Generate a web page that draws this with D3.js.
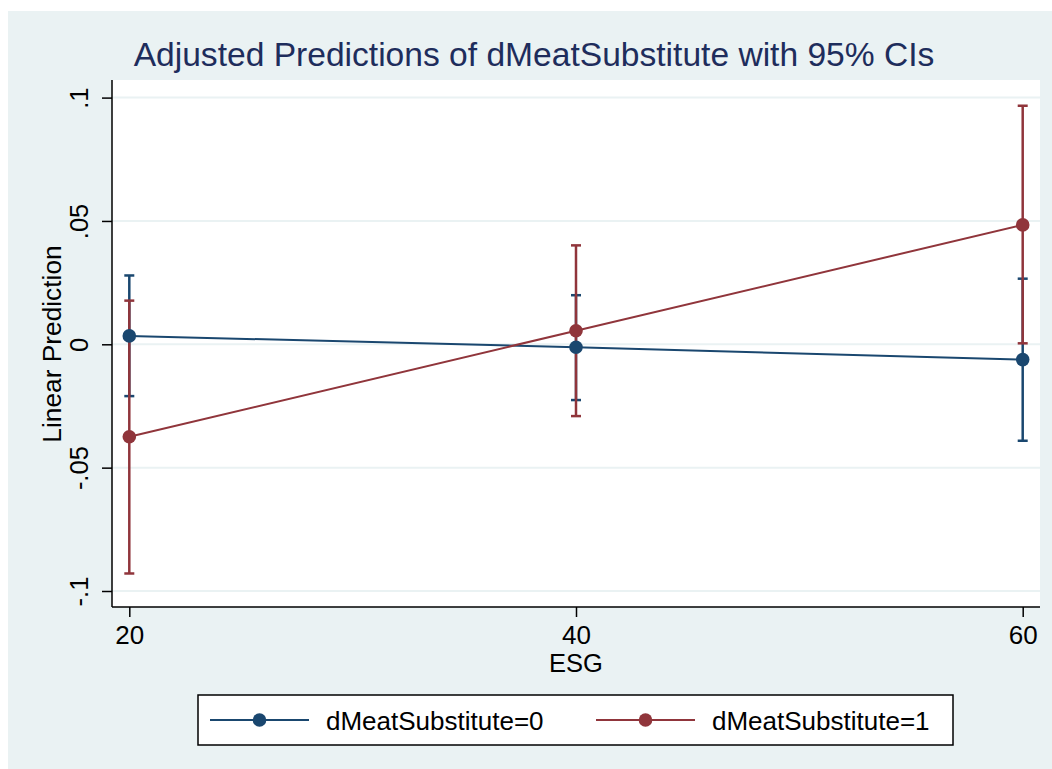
<!DOCTYPE html>
<html>
<head>
<meta charset="utf-8">
<script src="https://cdn.jsdelivr.net/npm/d3@7"></script>
<style>
  html, body { margin: 0; padding: 0; background: #ffffff; }
  svg { display: block; font-family: "Liberation Sans", Arial, Helvetica, sans-serif; }
</style>
</head>
<body>
<svg id="chart" width="1052" height="769"></svg>
<script>
// ---- data ----
const esgLevels = [20, 40, 60];
const seriesNames = ["dMeatSubstitute=0", "dMeatSubstitute=1"];
const pred0 = [0.0034, -0.0012, -0.0062];
const lo0   = [-0.0210, -0.0226, -0.0391];
const hi0   = [0.0279, 0.0199, 0.0266];
const pred1 = [-0.0375, 0.0055, 0.0484];
const lo1   = [-0.0929, -0.0291, 0.0004];
const hi1   = [0.0177, 0.0401, 0.0967];
const yTicks = [-0.1, -0.05, 0, 0.05, 0.1];
const yTickLabels = ["-.1", "-.05", "0", ".05", ".1"];
const xTicks = [20, 40, 60];
const titleText = "Adjusted Predictions of dMeatSubstitute with 95% CIs";
const xTitle = "ESG";
const yTitle = "Linear Prediction";

const colors = ["#1a476f", "#90353b"];
const bgColor = "#eaf2f3";

const series = [
  { name: seriesNames[0], pred: pred0, lo: lo0, hi: hi0, color: colors[0] },
  { name: seriesNames[1], pred: pred1, lo: lo1, hi: hi1, color: colors[1] }
];

const svg = d3.select("#chart");

// background
svg.append("rect").attr("x", 8).attr("y", 11).attr("width", 1044).attr("height", 758).attr("fill", bgColor);

// plot region
const plot = { left: 112, right: 1040, top: 80, bottom: 607 };
svg.append("rect").attr("x", plot.left).attr("y", plot.top)
  .attr("width", plot.right - plot.left).attr("height", plot.bottom - plot.top).attr("fill", "#ffffff");

const x = d3.scaleLinear().domain([20, 60]).range([129.3, 1022.7]);
const y = d3.scaleLinear().domain([-0.1, 0.1]).range([591, 97.6]);

// gridlines
svg.append("g").selectAll("line").data(yTicks).join("line")
  .attr("x1", plot.left).attr("x2", plot.right)
  .attr("y1", d => y(d)).attr("y2", d => y(d))
  .attr("stroke", bgColor).attr("stroke-width", 2);

// title
svg.append("text").attr("x", 534).attr("y", 66).attr("text-anchor", "middle")
  .attr("font-size", 33.6).attr("fill", "#1e2d5c").text(titleText);

// y axis
const yAxis = d3.axisLeft(y).tickValues(yTicks).tickSize(10).tickFormat((d, i) => yTickLabels[i]);
const gy = svg.append("g").attr("transform", `translate(${plot.left},0)`).call(yAxis);
gy.select(".domain").remove();
gy.selectAll(".tick line").attr("stroke", "#000").attr("stroke-width", 1.5);
gy.selectAll(".tick text").remove();
gy.selectAll(".tick").append("text")
  .attr("transform", "translate(-24,0) rotate(-90)")
  .attr("text-anchor", "middle").attr("dy", 0)
  .attr("fill", "#000").attr("font-size", 25.5)
  .attr("font-family", "Liberation Sans, Arial, sans-serif")
  .text((d, i) => yTickLabels[i]);
svg.append("line").attr("x1", plot.left).attr("x2", plot.left)
  .attr("y1", plot.top).attr("y2", plot.bottom).attr("stroke", "#000").attr("stroke-width", 1.5);

// x axis
const xAxis = d3.axisBottom(x).tickValues(xTicks).tickSize(10).tickFormat(d3.format("d"));
const gx = svg.append("g").attr("transform", `translate(0,${plot.bottom})`).call(xAxis);
gx.select(".domain").remove();
gx.selectAll(".tick line").attr("stroke", "#000").attr("stroke-width", 1.5);
gx.selectAll(".tick text").attr("fill", "#000").attr("font-size", 26)
  .attr("font-family", "Liberation Sans, Arial, sans-serif").attr("y", 0).attr("dy", 37);
svg.append("line").attr("x1", plot.left).attr("x2", plot.right)
  .attr("y1", plot.bottom).attr("y2", plot.bottom).attr("stroke", "#000").attr("stroke-width", 1.5);

// axis titles
svg.append("text").attr("x", 576).attr("y", 672).attr("text-anchor", "middle")
  .attr("font-size", 25.5).attr("fill", "#000").text(xTitle);
svg.append("text").attr("transform", "translate(61,344) rotate(-90)").attr("text-anchor", "middle")
  .attr("font-size", 26.3).attr("fill", "#000").text(yTitle);

// CIs
const capW = 5;
series.forEach(s => {
  const g = svg.append("g");
  esgLevels.forEach((lv, i) => {
    g.append("line").attr("x1", x(lv)).attr("x2", x(lv)).attr("y1", y(s.lo[i])).attr("y2", y(s.hi[i]))
      .attr("stroke", s.color).attr("stroke-width", 2.5);
    [s.lo[i], s.hi[i]].forEach(v => {
      g.append("line").attr("x1", x(lv) - capW).attr("x2", x(lv) + capW).attr("y1", y(v)).attr("y2", y(v))
        .attr("stroke", s.color).attr("stroke-width", 2.5);
    });
  });
});

// lines and markers
const line = d3.line().x((d, i) => x(esgLevels[i])).y(d => y(d));
series.forEach(s => {
  svg.append("path").datum(s.pred).attr("d", line).attr("fill", "none")
    .attr("stroke", s.color).attr("stroke-width", 2);
  svg.append("g").selectAll("circle").data(s.pred).join("circle")
    .attr("cx", (d, i) => x(esgLevels[i])).attr("cy", d => y(d)).attr("r", 6.8).attr("fill", s.color);
});

// legend
const lg = svg.append("g");
lg.append("rect").attr("x", 198).attr("y", 695).attr("width", 755).attr("height", 50)
  .attr("fill", "#fff").attr("stroke", "#000").attr("stroke-width", 1.5);
const legendItems = [
  { s: series[0], x0: 210, x1: 309, tx: 326 },
  { s: series[1], x0: 596, x1: 695, tx: 712 }
];
legendItems.forEach(it => {
  lg.append("line").attr("x1", it.x0).attr("x2", it.x1).attr("y1", 720).attr("y2", 720)
    .attr("stroke", it.s.color).attr("stroke-width", 2);
  lg.append("circle").attr("cx", (it.x0 + it.x1) / 2).attr("cy", 720).attr("r", 6.8).attr("fill", it.s.color);
  lg.append("text").attr("x", it.tx).attr("y", 729.5).attr("font-size", 26).attr("fill", "#000").text(it.s.name);
});
</script>
</body>
</html>
